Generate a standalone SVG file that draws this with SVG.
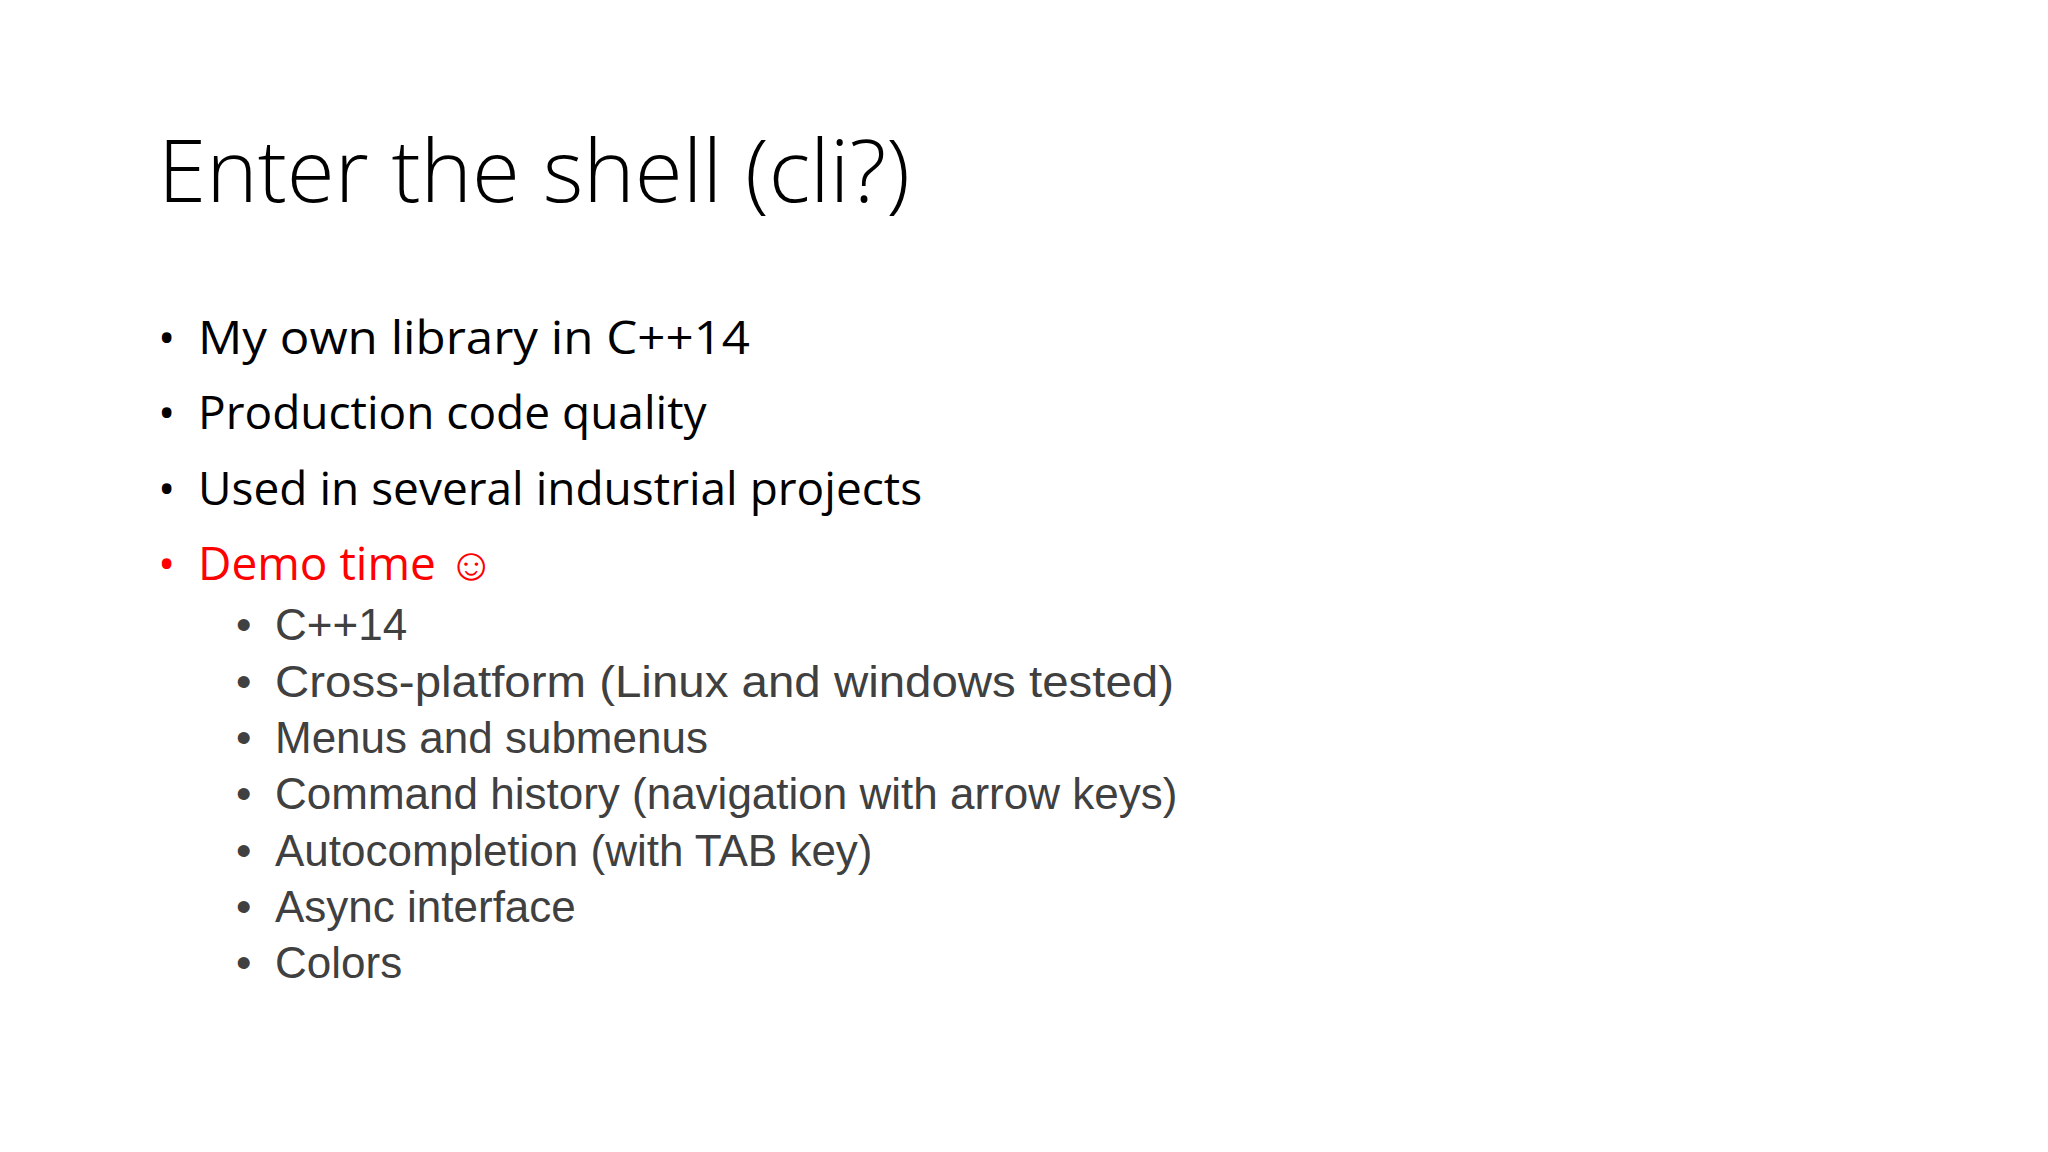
<svg xmlns="http://www.w3.org/2000/svg" width="2048" height="1152" viewBox="0 0 2048 1152">
<style>
.t{font-family:"Open Sans","Noto Sans",sans-serif;font-weight:300;font-size:86px;fill:#000}
.b{font-family:"Open Sans","Noto Sans",sans-serif;font-size:46px;fill:#000}
.s{font-family:"Liberation Sans",Arial,sans-serif;font-size:44px;fill:#404040}
</style>
<rect width="2048" height="1152" fill="#fff"/>
<g id="title"><text class="t" x="158" y="202" textLength="752" lengthAdjust="spacingAndGlyphs">Enter the shell (cli?)</text></g>
<g id="bullets">
<text class="b" x="158" y="354">•</text><text class="b" x="198" y="354" textLength="552" lengthAdjust="spacingAndGlyphs">My own library in C++14</text>
<text class="b" x="158" y="429">•</text><text class="b" x="198" y="429">Production code quality</text>
<text class="b" x="158" y="505">•</text><text class="b" x="198" y="505">Used in several industrial projects</text>
<text class="b" x="158" y="580" fill="#f00" style="fill:#f00">•</text><text class="b" x="198" y="580" style="fill:#f00">Demo time ☺</text>
</g>
<g id="subbullets">
<text class="s" x="236" y="640">•</text><text class="s" x="275" y="640">C++14</text>
<text class="s" x="236" y="697">•</text><text class="s" x="275" y="697" textLength="899" lengthAdjust="spacingAndGlyphs">Cross-platform (Linux and windows tested)</text>
<text class="s" x="236" y="753">•</text><text class="s" x="275" y="753">Menus and submenus</text>
<text class="s" x="236" y="809">•</text><text class="s" x="275" y="809">Command history (navigation with arrow keys)</text>
<text class="s" x="236" y="866">•</text><text class="s" x="275" y="866">Autocompletion (with TAB key)</text>
<text class="s" x="236" y="922">•</text><text class="s" x="275" y="922">Async interface</text>
<text class="s" x="236" y="978">•</text><text class="s" x="275" y="978">Colors</text>
</g>
</svg>
